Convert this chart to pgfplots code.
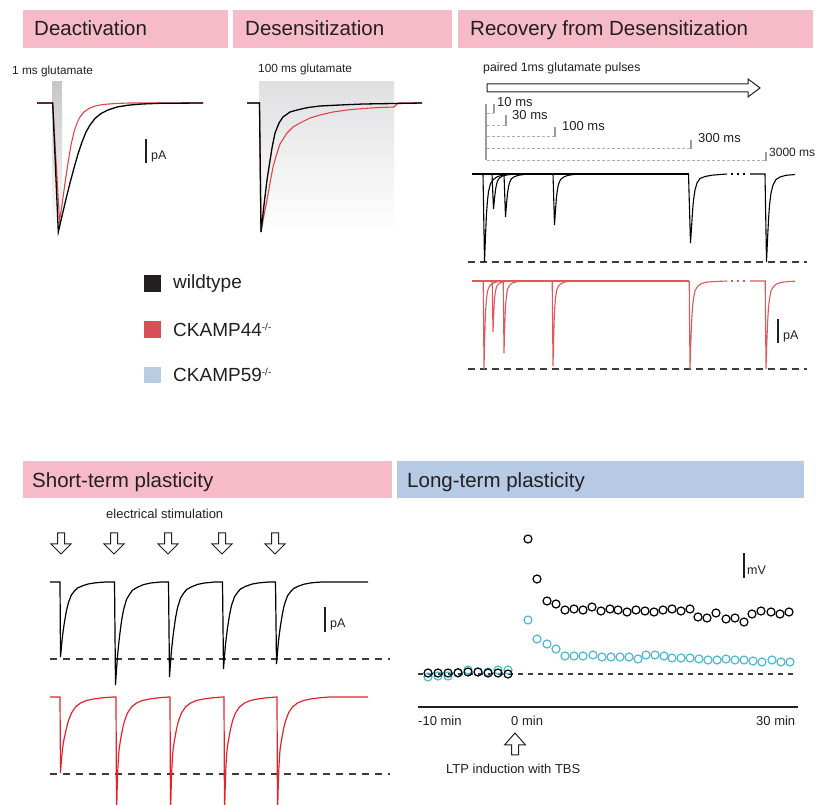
\documentclass[border=0pt]{standalone}
\usepackage{pgfplots}
\pgfplotsset{compat=1.18}
\usepackage{fontspec}
\setmainfont{Liberation Sans}
\definecolor{hpink}{RGB}{247,186,201}
\definecolor{hblue}{RGB}{182,202,230}
\definecolor{txt}{RGB}{35,31,32}
\definecolor{dred}{RGB}{222,68,72}
\definecolor{rred}{RGB}{224,88,92}
\definecolor{sred}{RGB}{226,35,43}
\definecolor{legred}{RGB}{215,80,85}
\definecolor{legblue}{RGB}{184,204,228}
\definecolor{cyanc}{RGB}{75,184,212}
\definecolor{gbar}{RGB}{155,155,155}
\definecolor{gdash}{RGB}{175,175,175}
\definecolor{dashcol}{RGB}{60,60,60}
\newcommand{\fs}[1]{\fontsize{#1}{#1}\selectfont}
\begin{document}
\begin{tikzpicture}
% ---------- background decorations ----------
\begin{scope}[x=1pt,y=-1pt,yshift=805pt]
\fill[hpink] (23,10) rectangle (228,48);
\fill[hpink] (233,10) rectangle (452,48);
\fill[hpink] (458,10) rectangle (813,48);
\fill[hpink] (23,461) rectangle (392,498);
\fill[hblue] (397,461) rectangle (804,498);
\shade[top color={rgb,255:red,198;green,198;blue,198}, bottom color=white] (52,82) rectangle (62,232);
\shade[top color={rgb,255:red,224;green,224;blue,226}, bottom color=white] (259,82) rectangle (394,232);
\end{scope}
% ---------- data ----------
\begin{axis}[name=main, at={(0,0)}, anchor=south west, width=819pt, height=805pt,
  scale only axis, xmin=0, xmax=819, ymin=0, ymax=805, y dir=reverse,
  hide axis, clip=false]
% Deactivation
\addplot[dred, line width=1.1pt, no marks] coordinates {(37,103)(52.7,103)(59.5,221)(62,205)(65,183)(68,163)(71,145)(74,132)(77,123)(80,117)(84,112)(89,108.5)(95,106)(103,104.5)(115,103.5)(130,103)(203,103)};
\addplot[black, line width=1.3pt, no marks] coordinates {(37,103)(52.7,103)(58.3,232)(62,216)(66,199)(70,183)(74,168)(78,154)(82,142)(86,132)(90,125)(95,118.5)(101,113.5)(108,110)(117,107)(128,105.2)(142,104)(160,103.3)(203,103)};
% Desensitization
\addplot[dred, line width=1.1pt, no marks] coordinates {(247,103)(259.5,103)(261,232)(264,215)(267,200)(270,183)(273,167)(277,153)(280,144)(287,133)(293,127)(300,123)(310,118)(320,115)(333,112)(347,110)(363,108.5)(380,107.5)(394,107)(397,104)(398,103)(422,103)};
\addplot[black, line width=1.3pt, no marks] coordinates {(247,103)(259.5,103)(261,232)(264,205)(267,180)(269,167)(272,148)(275,133)(279,123)(283,117)(290,112)(297,110)(308,107.5)(320,106)(340,105)(363,104)(394,103.5)(422,103)};
% Recovery: dashed reference lines
\addplot[dashcol, line width=1.2pt, dash pattern=on 7pt off 5pt, no marks] coordinates {(468,262)(807,262)};
\addplot[dashcol, line width=1.2pt, dash pattern=on 7pt off 5pt, no marks] coordinates {(468,369)(807,369)};
% Recovery black
\addplot[black, line width=1.1pt, no marks] coordinates {(472,174)(689,174)};
\addplot[black, line width=1.1pt, no marks] coordinates {(483,174)(484.5,262)(485.5,235.6)(486.5,213.6)(487.5,200.4)(488.5,191.6)(490.5,183.7)(493.5,179.3)(497.5,176.6)(502.5,175.1)(509,174)};
\addplot[black, line width=1.1pt, no marks] coordinates {(492,174)(493.5,209)(494.5,198.5)(495.5,189.8)(496.5,184.5)(497.5,181)(499.5,177.9)(502.5,176.1)(506.5,175)(511.5,174.4)(518,174)};
\addplot[black, line width=1.1pt, no marks] coordinates {(504,174)(505.5,217)(506.5,204.1)(507.5,193.4)(508.5,186.9)(509.5,182.6)(511.5,178.7)(514.5,176.6)(518.5,175.3)(523.5,174.5)(530,174)};
\addplot[black, line width=1.1pt, no marks] coordinates {(553,174)(554.5,225)(555.5,209.7)(556.5,197)(557.5,189.3)(558.5,184.2)(560.5,179.6)(563.5,177.1)(567.5,175.5)(572.5,174.6)(579,174)};
\addplot[black, line width=1.1pt, no marks] coordinates {(688.5,174)(690.5,243)(691.5,228)(692.5,212)(693.5,200)(695,190)(697,183)(700,178.5)(705,176.5)(712,175.2)(720,174.5)(727,174)};
\addplot[black, line width=1.1pt, dash pattern=on 2pt off 4pt, no marks] coordinates {(731,174)(747,174)};
\addplot[black, line width=1.1pt, no marks] coordinates {(750,174)(765,174)(766.5,262)(767.5,240)(768.5,220)(769.5,205)(771,193)(773,185)(776,179.5)(780,177)(786,175.3)(795,174.5)};
% Recovery red
\addplot[rred, line width=1.1pt, no marks] coordinates {(472,281)(689,281)};
\addplot[rred, line width=1.1pt, no marks] coordinates {(483.2,281)(484,369)(484.6,342.6)(485.2,320.6)(485.8,307.4)(486.5,298.6)(487.6,290.7)(489.5,286.3)(492,283.6)(496,282.1)(502,281)};
\addplot[rred, line width=1.1pt, no marks] coordinates {(492.2,281)(493,332)(493.6,316.7)(494.2,304)(494.8,296.3)(495.5,291.2)(496.6,286.6)(498.5,284.1)(501,282.5)(505,281.6)(511,281)};
\addplot[rred, line width=1.1pt, no marks] coordinates {(503.2,281)(504,353)(504.6,331.4)(505.2,313.4)(505.8,302.6)(506.5,295.4)(507.6,288.9)(509.5,285.3)(512,283.2)(516,281.9)(522,281)};
\addplot[rred, line width=1.1pt, no marks] coordinates {(552.2,281)(553,366)(553.6,340.5)(554.2,319.3)(554.8,306.5)(555.5,298)(556.6,290.4)(558.5,286.1)(561,283.6)(565,282)(571,281)};
\addplot[rred, line width=1.1pt, no marks] coordinates {(689.2,281)(690,369)(690.8,342.6)(691.7,320.6)(692.5,307.4)(693.5,298.6)(695,290.7)(697.7,286.3)(701.2,283.6)(706.8,282.1)(715,281.5)(727,281)};
\addplot[rred, line width=1.1pt, dash pattern=on 2pt off 4pt, no marks] coordinates {(731,281)(747,281)};
\addplot[rred, line width=1.1pt, no marks] coordinates {(750,281)(765.2,281)(766,369)(766.8,342.6)(767.7,320.6)(768.5,307.4)(769.5,298.6)(771,290.7)(773.7,286.3)(777.2,283.6)(782.8,282.1)(790,281.4)(795,281.2)};
% Short-term plasticity
\addplot[dashcol, line width=1.2pt, dash pattern=on 7pt off 6pt, no marks] coordinates {(50,659)(390,659)};
\addplot[dashcol, line width=1.2pt, dash pattern=on 7pt off 6pt, no marks] coordinates {(50,774)(390,774)};
\addplot[black, line width=1.2pt, no marks] coordinates {(50,582)(60,582)(60.5,657)(61.5,645.8)(62.5,636)(63.5,628.5)(64.5,621.8)(66.5,610.5)(68.5,602.3)(71.5,594.8)(74.5,591)(77.5,588)(82.5,585.8)(88.5,583.9)(95.5,582.8)(105.5,582)(114.5,582)
(115.5,685)(116.5,669.6)(117.5,656.2)(118.5,645.9)(119.5,636.6)(121.5,621.1)(123.5,609.8)(126.5,599.5)(129.5,594.4)(132.5,590.2)(137.5,587.2)(143.5,584.6)(150.5,583)(160.5,582)(168.5,582)
(169.5,677)(170.5,662.8)(171.5,650.4)(172.5,640.9)(173.5,632.4)(175.5,618.1)(177.5,607.7)(180.5,598.2)(183.5,593.4)(186.5,589.6)(191.5,586.8)(197.5,584.4)(204.5,583)(214.5,582)(222.5,582)
(223.5,669)(224.5,656)(225.5,644.6)(226.5,635.9)(227.5,628.1)(229.5,615.1)(231.5,605.5)(234.5,596.8)(237.5,592.4)(240.5,589)(245.5,586.4)(251.5,584.2)(258.5,582.9)(268.5,582)(275.5,582)
(276.5,664)(277.5,651.7)(278.5,641)(279.5,632.8)(280.5,625.5)(282.5,613.2)(284.5,604.1)(287.5,595.9)(290.5,591.8)(293.5,588.6)(298.5,586.1)(304.5,584.1)(311.5,582.8)(321.5,582)(368,582)};
\addplot[sred, line width=1.2pt, no marks] coordinates {(50,697)(60,697)(60.5,773)(61.5,759)(62.5,749)(63.5,742)(64.5,737)(66.5,728)(68.5,720.5)(71.5,713)(75.5,707)(80.5,703)(86.5,700.5)(93.5,699)(102.5,697.8)(112.5,697)(116,697)
(116.5,815)(117.2,787)(118,765)(119,750)(120.5,740)(122.5,729)(124.5,721)(127.5,713)(131.5,707)(136.5,703)(142.5,700.5)(149.5,699)(158.5,697.8)(168.5,697)(170,697)
(170.5,815)(171.2,787)(172,765)(173,750)(174.5,740)(176.5,729)(178.5,721)(181.5,713)(185.5,707)(190.5,703)(196.5,700.5)(203.5,699)(212.5,697.8)(222.5,697)(224,697)
(224.5,815)(225.2,787)(226,765)(227,750)(228.5,740)(230.5,729)(232.5,721)(235.5,713)(239.5,707)(244.5,703)(250.5,700.5)(257.5,699)(266.5,697.8)(276.5,697)(277,697)
(277.5,815)(278.2,787)(279,765)(280,750)(281.5,740)(283.5,729)(285.5,721)(288.5,713)(292.5,707)(297.5,703)(303.5,700.5)(310.5,699)(319.5,697.8)(329.5,697)(368,697)};
% Long-term plasticity
\addplot[dashcol, line width=1.1pt, dash pattern=on 5pt off 5pt, no marks] coordinates {(418,674)(798,674)};
\addplot[only marks, mark=o, mark size=4pt, mark options={draw=cyanc, fill=white, line width=1.2pt}] coordinates {(428,677)(438,676)(448,676)(458,673)(468,670)(478,672)(488,672)(498,670)(508,670)};
\addplot[only marks, mark=o, mark size=4pt, mark options={draw=cyanc, fill=white, line width=1.2pt}] coordinates {(528,620)(537,639)(547,644)(556,649)(565,656)(574,656)(583,656)(593,655)(602,657)(611,657)(620,657)(629,657)(638,659)(646,655)(655,655)(664,656)(672,658)(681,658)(690,658)(699,659)(708,660)(717,660)(726,659)(735,660)(744,660)(753,661)(762,662)(772,660)(781,662)(790,662)};
\addplot[only marks, mark=o, mark size=4pt, mark options={draw=black, fill=white, line width=1.2pt}] coordinates {(428,673)(438,673)(448,673)(458,672.7)(468,672)(478,672)(488,673)(498,673)(508,674)};
\addplot[only marks, mark=o, mark size=4pt, mark options={draw=black, fill=white, line width=1.2pt}] coordinates {(528,539)(537,579)(547,601)(556,604)(565,610)(574,609)(583,610)(592,607)(601,611)(610,609)(618,610)(627,612)(636,610)(645,611)(654,612)(663,610)(672,609)(681,611)(690,609)(698,617)(707,618)(716,613)(726,619)(735,618)(744,622)(752,614)(761,611)(771,612)(780,614)(789,612)};
\end{axis}
% ---------- foreground decorations and text ----------
\begin{scope}[x=1pt,y=-1pt,yshift=805pt, every node/.style={inner sep=0pt, text=txt}]
% titles
\node[anchor=base west, font=\fs{20.5}] at (34,36) {Deactivation};
\node[anchor=base west, font=\fs{20.5}] at (245,36) {Desensitization};
\node[anchor=base west, font=\fs{20.5}] at (470,35.5) {Recovery from Desensitization};
\node[anchor=base west, font=\fs{20.5}] at (32,488) {Short-term plasticity};
\node[anchor=base west, font=\fs{20.5}] at (407,488) {Long-term plasticity};
% small labels
\node[anchor=base west, font=\fs{11.8}] at (12,75) {1 ms glutamate};
\node[anchor=base west, font=\fs{11.8}] at (258,73) {100 ms glutamate};
\node[anchor=base west, font=\fs{12.3}] at (483,72) {paired 1ms glutamate pulses};
% scale bars
\draw[txt, line width=1.2pt] (146,139) -- (146,163);
\node[anchor=base west, font=\fs{12.5}] at (151,160) {pA};
\draw[txt, line width=1.2pt] (778,319) -- (778,343);
\node[anchor=base west, font=\fs{12.5}] at (783,340) {pA};
\draw[txt, line width=1.2pt] (325,607) -- (325,632);
\node[anchor=base west, font=\fs{12.5}] at (330,628) {pA};
\draw[txt, line width=1.2pt] (744,553) -- (744,578);
\node[anchor=base west, font=\fs{12.5}] at (747,575) {mV};
% recovery protocol
\draw[txt, line width=1pt, fill=white] (487,84) -- (748,84) -- (748,79) -- (760,88) -- (748,97) -- (748,92) -- (487,92) -- cycle;
\draw[gbar, line width=2pt] (486,104) -- (486,160);
\draw[gdash, line width=0.9pt, dash pattern=on 2.5pt off 2.5pt] (487,113) -- (494,113);
\draw[gdash, line width=0.9pt, dash pattern=on 2.5pt off 2.5pt] (487,125.5) -- (506,125.5);
\draw[gdash, line width=0.9pt, dash pattern=on 2.5pt off 2.5pt] (487,136.5) -- (555,136.5);
\draw[gdash, line width=0.9pt, dash pattern=on 2.5pt off 2.5pt] (487,148.5) -- (691,148.5);
\draw[gdash, line width=0.9pt, dash pattern=on 2.5pt off 2.5pt] (487,160.5) -- (766,160.5);
\draw[gbar, line width=2pt] (494,104) -- (494,113.5);
\draw[gbar, line width=2pt] (506,115) -- (506,126);
\draw[gbar, line width=2pt] (555,127) -- (555,137);
\draw[gbar, line width=2pt] (691,140) -- (691,149);
\draw[gbar, line width=2pt] (766,152) -- (766,161);
\node[anchor=base west, font=\fs{13}] at (497,107) {10 ms};
\node[anchor=base west, font=\fs{13}] at (512,120) {30 ms};
\node[anchor=base west, font=\fs{13}] at (562,131) {100 ms};
\node[anchor=base west, font=\fs{13}] at (698,143) {300 ms};
\node[anchor=base west, font=\fs{12}] at (769,157) {3000 ms};
% legend
\fill[txt] (144,275) rectangle (161,292);
\fill[legred] (144,321) rectangle (161,338);
\fill[legblue] (144,367) rectangle (161,383);
\node[anchor=base west, font=\fs{19}] at (173,289) {wildtype};
\node[anchor=base west, font=\fs{19}] at (173,337) {CKAMP44\raisebox{6.5pt}{\fs{10}-/-}};
\node[anchor=base west, font=\fs{19}] at (173,382) {CKAMP59\raisebox{6.5pt}{\fs{10}-/-}};
% short-term stimulation arrows
\node[anchor=base west, font=\fs{13}] at (106,519) {electrical stimulation};
\foreach \c in {61,114,168,222,275} {
  \draw[txt, line width=1pt, fill=white] (\c-3.5,533) -- (\c+3.5,533) -- (\c+3.5,544) -- (\c+10,544) -- (\c,554) -- (\c-10,544) -- (\c-3.5,544) -- cycle;
}
% LTP axis and labels
\draw[txt, line width=1.3pt] (418,707) -- (798,707);
\node[anchor=base west, font=\fs{13}] at (418,726) {-10 min};
\node[anchor=base west, font=\fs{13}] at (511,726) {0 min};
\node[anchor=base west, font=\fs{13}] at (756,726) {30 min};
\draw[txt, line width=1pt, fill=white] (511.5,755) -- (511.5,745) -- (504.5,745) -- (515,733) -- (525.5,745) -- (518.5,745) -- (518.5,755) -- cycle;
\node[anchor=base west, font=\fs{13}] at (446,774) {LTP induction with TBS};
\end{scope}
\pgfresetboundingbox
\path[use as bounding box] (0,0) rectangle (819pt,805pt);
\end{tikzpicture}
\end{document}
